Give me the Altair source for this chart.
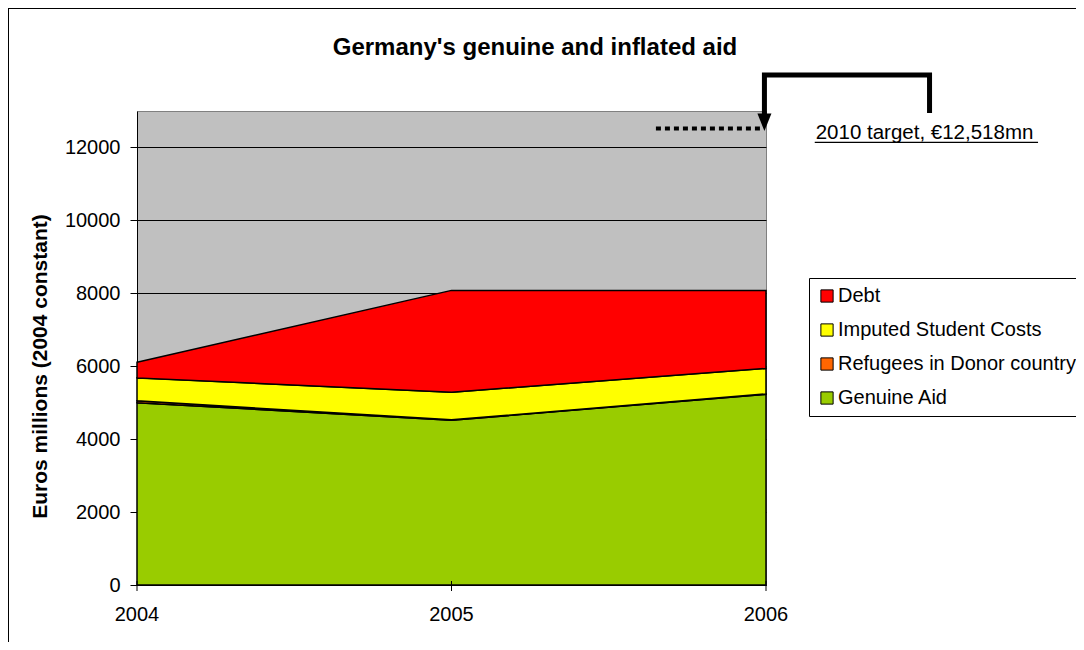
import altair as alt
import pandas as pd

# ---- data ----
years = [2004, 2005, 2006]
genuine_aid = [5000, 4520, 5230]
refugees_in_donor = [50, 10, 10]
imputed_student_costs = [630, 755, 700]
debt = [430, 2795, 2140]
target_2010 = 12518
target_label = "2010 target, \u20ac12,518mn"
chart_title = "Germany's genuine and inflated aid"
year_labels = ["2004", "2005", "2006"]

series_names = ["Debt", "Imputed Student Costs", "Refugees in Donor country", "Genuine Aid"]
series_colors = ["#FF0000", "#FFFF00", "#FF6600", "#99CC00"]
y_ticks = [0, 2000, 4000, 6000, 8000, 10000, 12000]

FONT = "Liberation Sans"

rows = []
stack_order = [("Genuine Aid", genuine_aid), ("Refugees in Donor country", refugees_in_donor),
               ("Imputed Student Costs", imputed_student_costs), ("Debt", debt)]
for k, (name, vals) in enumerate(stack_order):
    for yr, v in zip(years, vals):
        rows.append({"year": yr, "value": v, "series": name, "ord": k})
df = pd.DataFrame(rows)
years_df = pd.DataFrame({"year": years, "label": year_labels})

W, H = 629, 474
x_scale = alt.Scale(domain=[2004, 2006], nice=False, zero=False)
y_scale = alt.Scale(domain=[0, 13000], nice=False)

x_axis = alt.Axis(values=years, title=None, labels=False, ticks=False, grid=False,
                  domainColor="black")
y_axis = alt.Axis(values=y_ticks, format="d", title="Euros millions (2004 constant)",
                  labelFontSize=20, tickSize=7, labelPadding=10, grid=True,
                  gridColor="black", gridWidth=1, labelOverlap=False,
                  domainColor="black", tickColor="black", labelColor="black",
                  titleFontSize=21, titleFontWeight="bold", titleColor="black",
                  titleX=-97, titleY=255, titleAngle=-90, titleBaseline="middle",
                  titleAlign="center")


def ax(field):
    return alt.X(field, type="quantitative", scale=x_scale, axis=x_axis)


def ay(field, **kw):
    return alt.Y(field, type="quantitative", scale=y_scale, axis=y_axis, **kw)


areas = alt.Chart(df).mark_area(stroke="black", strokeWidth=1.5, strokeJoin="miter").encode(
    x=ax("year"),
    y=ay("value", stack="zero"),
    color=alt.Color("series:N", scale=alt.Scale(domain=series_names, range=series_colors),
                    legend=alt.Legend(title=None, orient="none", legendX=672, legendY=167,
                                      symbolType="square", symbolSize=150, symbolStrokeColor="black",
                                      symbolStrokeWidth=1, labelFontSize=20, labelColor="black",
                                      labelLimit=400, rowPadding=14, padding=8, strokeColor="black",
                                      fillColor="white", labelOffset=1)),
    order=alt.Order("ord:Q", sort="ascending"),
)

# x-axis ticks and year labels
x_ticks = alt.Chart(years_df).mark_rule(color="black", strokeWidth=1).encode(
    x=ax("year"), y=alt.value(H - 4), y2=alt.value(H + 6))
x_labels = alt.Chart(years_df).mark_text(fontSize=20, baseline="top", align="center",
                                         color="black").encode(
    x=ax("year"), y=alt.value(H + 20), text="label:N")

# dotted target line
target_df = pd.DataFrame({"x": [2005.65], "x2": [2005.985], "y": [target_2010]})
target_line = alt.Chart(target_df).mark_rule(color="black", strokeWidth=4, strokeDash=[5, 4]).encode(
    x=ax("x"), x2="x2:Q", y=ay("y"))

# elbow connector with arrow
conn_df = pd.DataFrame({"x": [2006.52, 2006.52, 2005.995, 2005.995],
                        "y": [12945, 13987, 13987, 12900], "o": [0, 1, 2, 3]})
connector = alt.Chart(conn_df).mark_line(color="black", strokeWidth=5, strokeJoin="miter").encode(
    x=ax("x"), y=ay("y"), order="o:Q")

arrow_df = pd.DataFrame({"x": [2005.995], "y": [12690]})
arrow = alt.Chart(arrow_df).mark_point(shape="M -1 -1.25 L 1 -1.25 L 0 1.25 Z", filled=True,
                                       color="black", size=196, opacity=1).encode(
    x=ax("x"), y=ay("y"))

label_df = pd.DataFrame({"x": [2006.158], "y": [12232], "t": [target_label]})
label = alt.Chart(label_df).mark_text(align="left", baseline="alphabetic", fontSize=20.5,
                                      color="black").encode(
    x=ax("x"), y=ay("y"), text="t:N")

ul_df = pd.DataFrame({"x": [2006.155], "x2": [2006.865], "y": [12140]})
underline = alt.Chart(ul_df).mark_rule(color="black", strokeWidth=1.2).encode(
    x=ax("x"), x2="x2:Q", y=ay("y"))

title = alt.Chart(pd.DataFrame({"t": [chart_title]})).mark_text(
    fontSize=24, fontWeight="bold", align="center", baseline="alphabetic", color="black").encode(
    x=alt.value(398), y=alt.value(-56), text="t:N")

# outer chart-area frame (left and top edges visible)
frame_l = alt.Chart(pd.DataFrame({"a": [0]})).mark_rule(color="black", strokeWidth=1).encode(
    x=alt.value(-128.5), y=alt.value(-103), y2=alt.value(531))
frame_t = alt.Chart(pd.DataFrame({"a": [0]})).mark_rule(color="black", strokeWidth=1).encode(
    x=alt.value(-129), x2=alt.value(939), y=alt.value(-102.5))

chart = alt.layer(areas, x_ticks, x_labels, target_line, connector, arrow, label, underline,
                  title, frame_l, frame_t).properties(
    width=W, height=H,
    autosize=alt.AutoSizeParams(type="none"),
    padding={"left": 129, "top": 103, "right": 310, "bottom": 57},
).configure(font=FONT, background="white").configure_view(
    fill="#C0C0C0", stroke="#808080", strokeWidth=1)

chart.save("out.html", embed_options={"renderer": "svg", "actions": False})
